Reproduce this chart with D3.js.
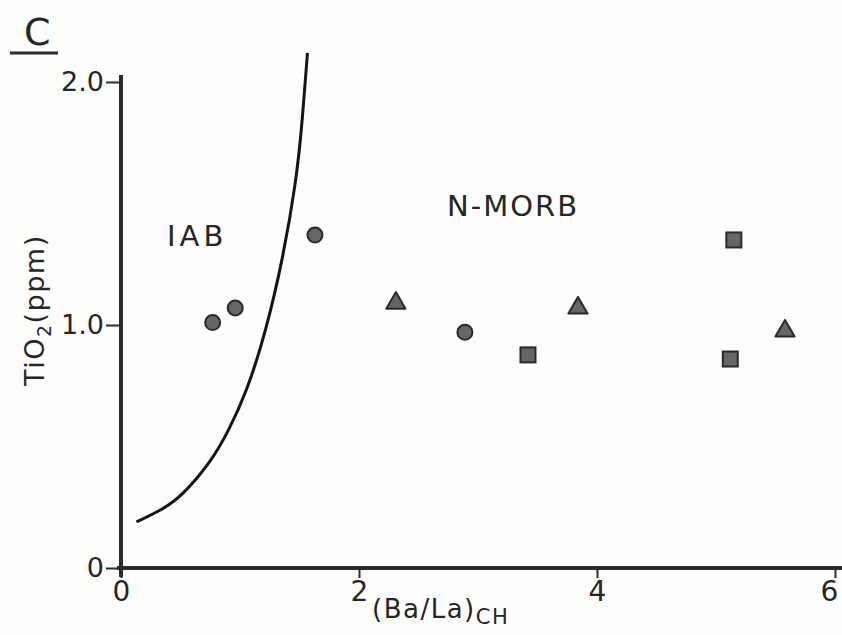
<!DOCTYPE html>
<html>
<head>
<meta charset="utf-8">
<script src="https://cdn.jsdelivr.net/npm/d3@7"></script>
<style>
  html, body { margin: 0; padding: 0; background: #fdfdfc; }
  svg { display: block; }
  text { font-family: "DejaVu Sans", "Liberation Sans", sans-serif; fill: #262626; }
</style>
</head>
<body>
<svg id="chart" width="842" height="635"></svg>
<script>
// (Ba/La)CH vs TiO2 samples, by symbol group
const circleX = [0.77, 0.96, 1.63, 2.89];
const circleY = [1.01, 1.07, 1.37, 0.97];
const triangleX = [2.31, 3.84, 5.58];
const triangleY = [1.09, 1.07, 0.975];
const squareX = [3.42, 5.15, 5.12];
const squareY = [0.877, 1.35, 0.86];

// IAB / N-MORB discriminant boundary
const boundaryX = [0.13, 0.35, 0.52, 0.76, 0.90, 1.06, 1.21, 1.36, 1.475, 1.52, 1.567];
const boundaryY = [0.19, 0.24, 0.30, 0.44, 0.56, 0.73, 0.96, 1.27, 1.60, 1.82, 2.12];

const xTicks = [0, 2, 4, 6];
const xTickLabels = ["0", "2", "4", "6"];
const yTicks = [0, 1, 2];
const yTickLabels = ["0", "1.0", "2.0"];

const svg = d3.select("#chart");
const x = d3.scaleLinear().domain([0, 6]).range([121, 835]);
const y = d3.scaleLinear().domain([0, 2]).range([568, 82]);

const ink = "#2b2b2b";

// panel letter
svg.append("text").attr("x", 24).attr("y", 45)
  .attr("font-size", 38).text("C");
svg.append("line").attr("x1", 10).attr("x2", 58).attr("y1", 53).attr("y2", 53)
  .attr("stroke", ink).attr("stroke-width", 3);

// axes
const xAxis = d3.axisBottom(x).tickValues(xTicks)
  .tickFormat((d, i) => xTickLabels[i]).tickSize(10).tickPadding(3);
const gx = svg.append("g").attr("transform", `translate(0,${y(0)})`).call(xAxis);
gx.select(".domain").attr("d", `M${x(0) - 4},0H842`)
  .attr("stroke", ink).attr("stroke-width", 4);
gx.selectAll(".tick line").attr("stroke", ink).attr("stroke-width", 2);
gx.selectAll(".tick text").attr("font-size", 28).attr("fill", "#262626")
  .attr("font-family", "DejaVu Sans, sans-serif");
gx.selectAll(".tick").filter(d => d === 6).select("text").attr("dx", -6);

const yAxis = d3.axisLeft(y).tickValues(yTicks)
  .tickFormat((d, i) => yTickLabels[i]).tickSize(15).tickPadding(2);
const gy = svg.append("g").attr("transform", `translate(${x(0)},0)`).call(yAxis);
gy.select(".domain").attr("d", `M0,${y(2) - 7}V${y(0) + 9}`)
  .attr("stroke", ink).attr("stroke-width", 4);
gy.selectAll(".tick line").attr("stroke", ink).attr("stroke-width", 2);
gy.selectAll(".tick text").attr("font-size", 27).attr("fill", "#262626")
  .attr("font-family", "DejaVu Sans, sans-serif");

// axis titles
const xt = svg.append("text").attr("x", 372).attr("y", 618)
  .attr("font-size", 26).attr("letter-spacing", 1.5);
xt.append("tspan").text("(Ba/La)");
xt.append("tspan").attr("dy", 6).attr("font-size", 21).text("CH");

const yt = svg.append("text")
  .attr("transform", "translate(44,386) rotate(-90)")
  .attr("font-size", 27).attr("letter-spacing", 1.5);
yt.append("tspan").text("TiO");
yt.append("tspan").attr("dy", 7).attr("font-size", 19).text("2");
yt.append("tspan").attr("dy", -7).text("(ppm)");

// field labels
svg.append("text").attr("x", 167).attr("y", 246).attr("font-size", 29)
  .attr("letter-spacing", 4).text("IAB");
svg.append("text").attr("x", 447).attr("y", 216).attr("font-size", 29)
  .attr("letter-spacing", 2).text("N-MORB");

// boundary curve
const line = d3.line().x(d => x(d[0])).y(d => y(d[1])).curve(d3.curveBasis);
svg.append("path")
  .datum(boundaryX.map((v, i) => [v, boundaryY[i]]))
  .attr("d", line).attr("fill", "none")
  .attr("stroke", "#151515").attr("stroke-width", 3);

// symbols
const markFill = "#666666", markStroke = "#2a2a2a";
svg.append("g").selectAll("circle")
  .data(circleX.map((v, i) => [v, circleY[i]]))
  .join("circle")
  .attr("cx", d => x(d[0])).attr("cy", d => y(d[1])).attr("r", 7.5)
  .attr("fill", markFill).attr("stroke", markStroke).attr("stroke-width", 2);

const tri = d3.symbol().type(d3.symbolTriangle).size(160);
svg.append("g").selectAll("path")
  .data(triangleX.map((v, i) => [v, triangleY[i]]))
  .join("path")
  .attr("d", tri)
  .attr("transform", d => `translate(${x(d[0])},${y(d[1])})`)
  .attr("fill", markFill).attr("stroke", markStroke).attr("stroke-width", 2)
  .attr("stroke-linejoin", "round");

svg.append("g").selectAll("rect")
  .data(squareX.map((v, i) => [v, squareY[i]]))
  .join("rect")
  .attr("x", d => x(d[0]) - 7.5).attr("y", d => y(d[1]) - 7.5)
  .attr("width", 15).attr("height", 15)
  .attr("fill", markFill).attr("stroke", markStroke).attr("stroke-width", 2);
</script>
</body>
</html>
